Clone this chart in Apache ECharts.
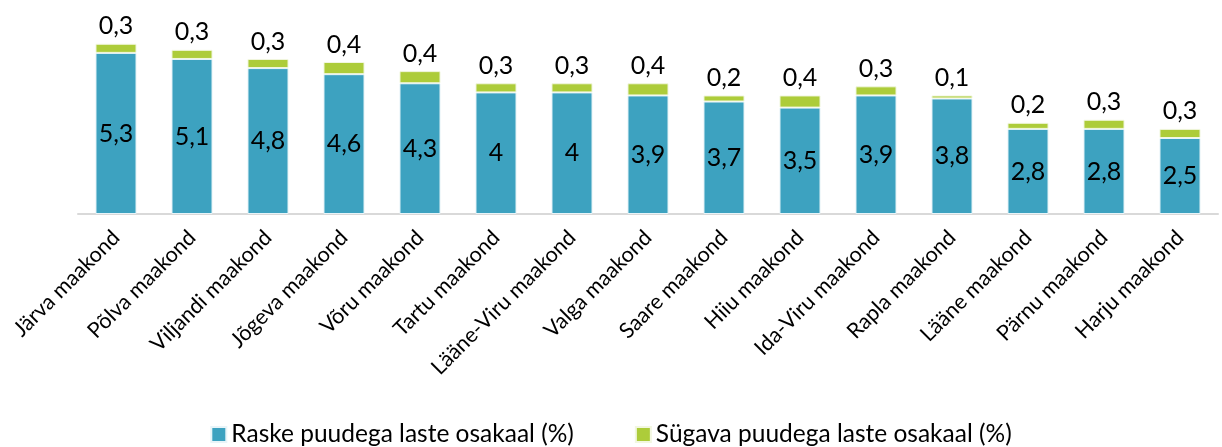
<!DOCTYPE html>
<html><head><meta charset="utf-8">
<script src="https://cdn.jsdelivr.net/npm/echarts@6/dist/echarts.min.js"></script>
<style>html,body{margin:0;padding:0;background:#fff}#c{width:1222px;height:447px}</style>
</head><body><div id="c"></div>
<script>
const categories = ["Järva maakond","Põlva maakond","Viljandi maakond","Jõgeva maakond","Võru maakond","Tartu maakond","Lääne-Viru maakond","Valga maakond","Saare maakond","Hiiu maakond","Ida-Viru maakond","Rapla maakond","Lääne maakond","Pärnu maakond","Harju maakond"];
const raske = [5.3,5.1,4.8,4.6,4.3,4,4,3.9,3.7,3.5,3.9,3.8,2.8,2.8,2.5];
const sugava = [0.3,0.3,0.3,0.4,0.4,0.3,0.3,0.4,0.2,0.4,0.3,0.1,0.2,0.3,0.3];
const seriesNames = ["Raske puudega laste osakaal (%)","Sügava puudega laste osakaal (%)"];
const fmt = p => String(p.value).replace('.', ',');
const font = 'Lato, "Open Sans", sans-serif';
const chart = echarts.init(document.getElementById('c'));
chart.setOption({
  animation:false,
  grid:{left:78,right:4,top:31.6,bottom:233,containLabel:false},
  legend:{top:417,left:'center',itemWidth:15,itemHeight:15,itemGap:61,icon:'rect',
    textStyle:{fontFamily:font,fontSize:24.5,color:'#000'}},
  xAxis:{type:'category',data:categories,
    axisLine:{lineStyle:{color:'#d9d9d9',width:2}},axisTick:{show:false},
    axisLabel:{rotate:45,interval:0,margin:20,fontFamily:font,fontSize:21.5,color:'#000'}},
  yAxis:{type:'value',min:0,max:6,show:false,splitLine:{show:false}},
  series:[
    {name:seriesNames[0],type:'bar',stack:'a',data:raske,barWidth:'54%',
     itemStyle:{color:'#3da2c0',borderColor:'#e8f4f8',borderWidth:1},
     label:{show:true,position:'inside',formatter:fmt,fontFamily:font,fontSize:25,color:'#000'}},
    {name:seriesNames[1],type:'bar',stack:'a',data:sugava,barWidth:'54%',
     itemStyle:{color:'#adcc3a',borderColor:'#f2f7e0',borderWidth:1},
     label:{show:true,position:'top',distance:5,formatter:fmt,fontFamily:font,fontSize:25,color:'#000'}}
  ]
});
</script></body></html>
